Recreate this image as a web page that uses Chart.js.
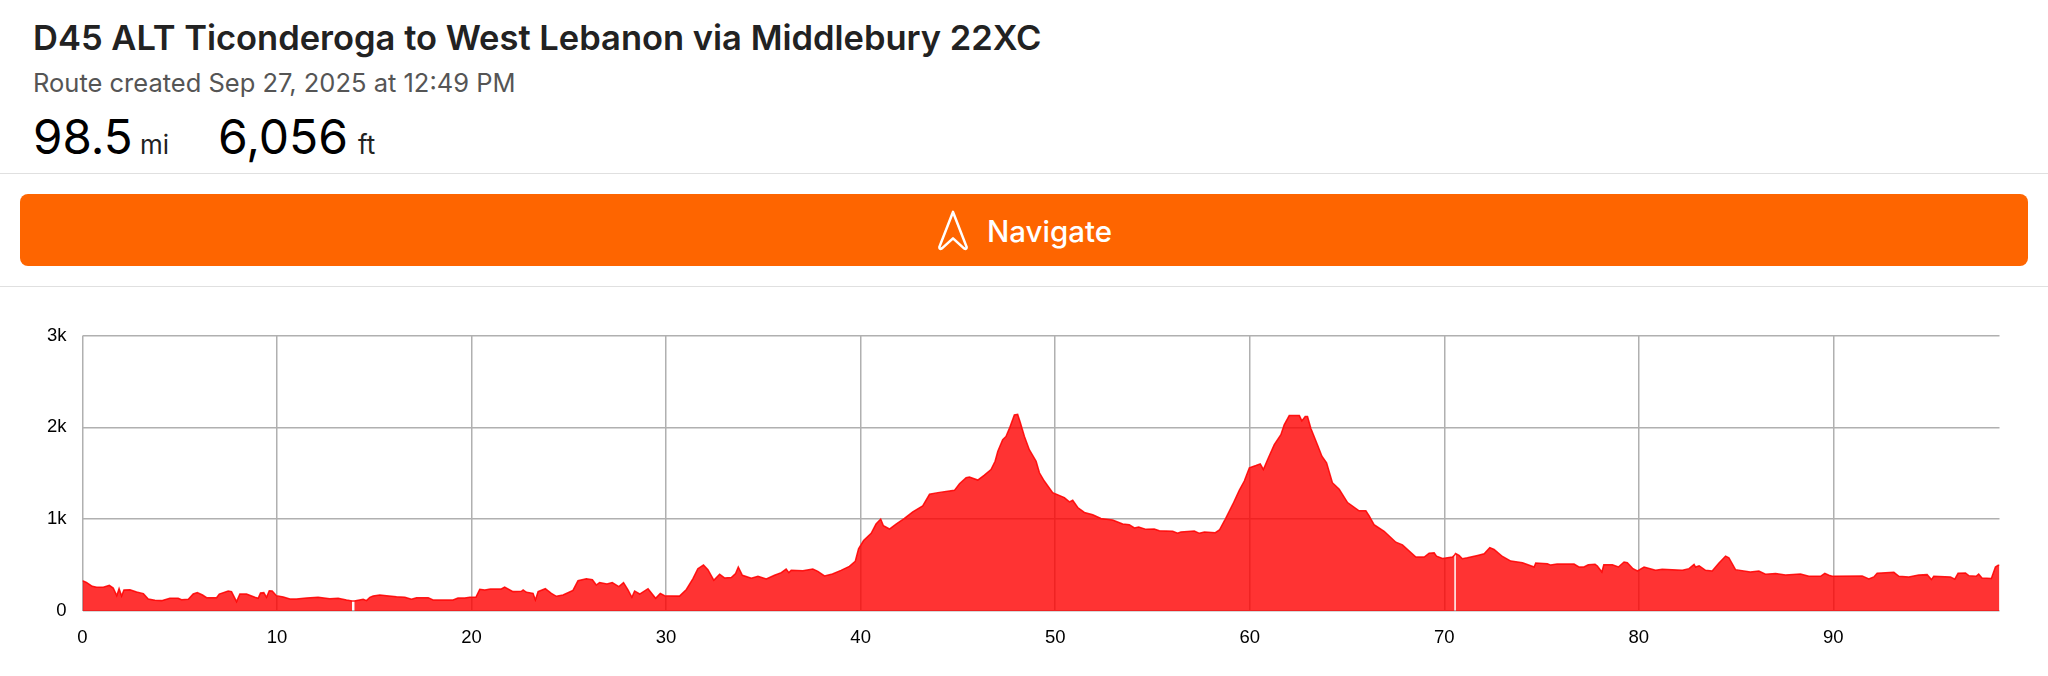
<!DOCTYPE html>
<html><head><meta charset="utf-8">
<script src="https://cdn.jsdelivr.net/npm/chart.js@4"></script>
<style>
html,body{margin:0;padding:0;background:#fff;width:2048px;height:676px;overflow:hidden}
body{position:relative;font-family:Inter,sans-serif}
.t{position:absolute;white-space:nowrap;line-height:1}
.rule{position:absolute;left:0;width:2048px;height:1px;background:#e0e0e0}
#btn{position:absolute;left:20px;top:194px;width:2008px;height:72px;background:#fe6500;border-radius:8px}
#chartBox{position:absolute;left:0;top:320px;width:2048px;height:356px}
</style></head><body>
<div class="t" style="left:33px;top:21px;font-size:34.5px;font-weight:600;color:#222">D45 ALT Ticonderoga to West Lebanon via Middlebury 22XC</div>
<div class="t" style="left:33px;top:70px;font-size:25.5px;color:#555">Route created Sep 27, 2025 at 12:49 PM</div>
<div class="t" style="left:33px;top:113px;font-size:47.5px;color:#000">98.5</div>
<div class="t" style="left:140px;top:132px;font-size:26px;color:#222">mi</div>
<div class="t" style="left:218px;top:113px;font-size:48px;color:#000">6,056</div>
<div class="t" style="left:358px;top:132px;font-size:26px;color:#222">ft</div>
<div class="rule" style="top:173px"></div>
<div id="btn"></div>
<svg style="position:absolute;left:936px;top:209px" width="34" height="43" viewBox="0 0 34 44" fill="none" stroke="#fff" stroke-width="2.6" stroke-linejoin="round"><path d="M17 3 L31 39 Q31 42 28 40 L17 30 L6 40 Q3 42 3 39 Z"/></svg>
<div class="t" style="left:987px;top:217px;font-size:29.5px;font-weight:500;color:#fff">Navigate</div>
<div class="rule" style="top:286px"></div>
<div id="chartBox"><canvas id="c" width="2048" height="356" style="display:block"></canvas></div>
<script>
const miles=[0,0.2,0.5,0.73,1.07,1.38,1.58,1.76,1.88,2.01,2.13,2.44,2.78,3.13,3.38,3.72,4.07,4.49,4.92,5.09,5.44,5.69,5.9,6.17,6.38,6.89,7.03,7.49,7.66,7.92,8.09,8.43,8.86,9.03,9.15,9.32,9.46,9.6,9.75,9.97,10.32,10.66,11,11.52,12.11,12.71,13.14,13.57,13.86,13.97,14.43,14.6,14.77,
14.94,15.28,15.63,16.14,16.57,16.91,17.17,17.77,18.02,19.05,19.3,19.65,19.91,20.22,20.42,20.68,20.97,21.53,21.7,22.13,22.56,22.65,22.82,23.16,23.28,23.42,23.79,24.1,24.36,24.7,25.21,25.47,25.9,26.21,26.41,26.58,26.96,27.23,27.57,27.81,28.04,28.24,28.38,28.64,29.07,29.46,29.7,29.92,
30.69,31.04,31.38,31.63,31.92,32.15,32.45,32.75,33,33.35,33.57,33.71,33.92,34.38,34.72,35.15,35.57,35.92,36.17,36.31,36.43,37.03,37.54,37.8,38.14,38.55,38.99,39.42,39.72,39.89,40.15,40.54,40.79,41.03,41.17,41.48,41.82,42.25,42.68,43.19,43.54,43.97,44.56,44.82,
45.08,45.42,45.59,46.02,46.36,46.7,46.91,47.05,47.3,47.47,47.65,47.9,48.07,48.19,48.42,48.67,49.02,49.19,49.44,49.87,50.47,50.73,50.9,51.16,51.5,51.93,52.35,52.95,53.47,53.81,54.07,54.29,54.67,55.09,55.35,56.04,56.29,56.46,57.15,57.41,57.67,58.23,58.44,58.7,59.13,
59.46,59.72,59.98,60.32,60.54,60.7,60.92,61.26,61.6,61.77,62.03,62.55,62.68,62.85,62.97,63.14,63.48,63.71,63.95,64.25,64.6,65.03,65.62,65.97,66.14,66.39,66.91,67.51,67.85,68.54,68.97,69.22,69.48,69.6,69.91,70.42,70.53,70.58,70.76,70.93,71.19,71.71,72.05,72.34,72.56,72.99,73.42,74.02,74.62,
74.7,75.3,75.47,75.8,76.67,76.92,77.18,77.4,77.75,77.87,78.1,78.2,78.64,78.95,79.24,79.41,79.7,79.93,80.27,80.86,81.2,82.24,82.58,82.84,82.92,83.1,83.43,83.77,84.12,84.46,84.63,84.97,85.73,86.17,86.51,87.03,87.54,88.31,88.74,89.34,
89.56,89.77,89.94,91.48,91.82,92.08,92.25,93.11,93.37,93.88,94.39,94.82,95.04,95.16,96.02,96.24,96.41,96.79,96.96,97.34,97.47,97.64,98.12,98.33,98.47,98.54];
const elevation=[330,312,269,258,258,280,250,167,243,163,229,232,207,189,131,116,113,138,138,123,127,185,200,174,145,145,185,218,211,102,185,185,149,138,196,200,149,221,218,167,152,131,131,142,149,134,138,120,110,108,127,113,149,
163,174,167,156,149,127,145,145,120,120,142,142,149,149,236,229,240,240,261,211,214,229,203,192,120,211,243,192,160,174,225,330,352,341,283,309,294,309,265,309,229,149,218,185,243,138,192,167,
162,234,353,461,500,450,335,400,360,364,407,479,389,356,378,349,389,418,457,418,443,439,457,432,382,403,443,486,540,677,767,846,947,1001,929,893,947,1008,1080,1145,1271,1289,1307,1314,
1386,1451,1458,1426,1480,1541,1631,1739,1865,1901,1991,2135,2142,2063,1901,1757,1631,1505,1415,1289,1235,1188,1206,1127,1073,1048,1008,990,947,940,904,914,889,893,875,868,846,860,871,846,860,853,882,983,1163,
1314,1415,1559,1584,1602,1541,1649,1811,1919,2027,2128,2128,2070,2117,2117,1991,1811,1685,1613,1397,1325,1181,1091,1091,1037,940,868,749,720,587,587,630,634,598,572,587,610,626,605,569,580,605,623,691,670,594,544,526,479,
522,515,500,511,511,479,479,504,508,490,425,504,504,479,533,526,461,436,479,443,454,443,461,508,479,493,443,436,522,598,580,450,425,436,400,407,392,403,378,378,
410,389,378,382,349,371,410,421,378,371,392,396,342,378,371,346,410,414,385,378,403,360,353,479,497,497];
const fillBreaksAfter=[13.86,70.53];
const xTicks=[0,10,20,30,40,50,60,70,80,90];
const yTicks=[0,1000,2000,3000];
const yTickLabels=['0','1k','2k','3k'];

const linePts=miles.map((m,i)=>({x:m,y:elevation[i]}));
const fillPts=[];
linePts.forEach((p,i)=>{fillPts.push(p);
  if(fillBreaksAfter.includes(p.x)) fillPts.push({x:(p.x+miles[i+1])/2,y:null});});

new Chart(document.getElementById('c'),{
  type:'line',
  data:{datasets:[
    {data:fillPts,borderWidth:0,borderColor:'transparent',backgroundColor:'rgba(255,0,0,0.8)',fill:'origin',pointRadius:0,tension:0,spanGaps:false},
    {data:linePts,borderWidth:1.5,borderColor:'#ff2020',fill:false,pointRadius:0,tension:0}
  ]},
  options:{
    responsive:false,animation:false,devicePixelRatio:1,
    layout:{padding:{left:24,right:48.5,top:15.5,bottom:0}},
    plugins:{legend:{display:false},tooltip:{enabled:false}},
    scales:{
      x:{type:'linear',min:0,max:98.54,
        afterBuildTicks(s){s.ticks=xTicks.map(v=>({value:v}));},
        afterFit(s){s.height=65;s.paddingLeft=0;s.paddingRight=0;},
        border:{display:false},
        grid:{color:'#b0b0b0',lineWidth:1.5,drawTicks:false},
        ticks:{maxRotation:0,autoSkip:false,padding:16,color:'#000',font:{family:'"Liberation Sans"',size:18.5}}},
      y:{min:0,max:3000,
        afterBuildTicks(s){s.ticks=yTicks.map(v=>({value:v}));},
        afterFit(s){s.width=58.5;s.paddingTop=0;s.paddingBottom=0;},
        border:{display:false},
        grid:{color:'#b0b0b0',lineWidth:1.5,drawTicks:false},
        ticks:{padding:16,color:'#000',font:{family:'"Liberation Sans"',size:18.5},
          callback(v){return yTickLabels[yTicks.indexOf(v)];}}}
    }
  }
});
</script>
</body></html>
